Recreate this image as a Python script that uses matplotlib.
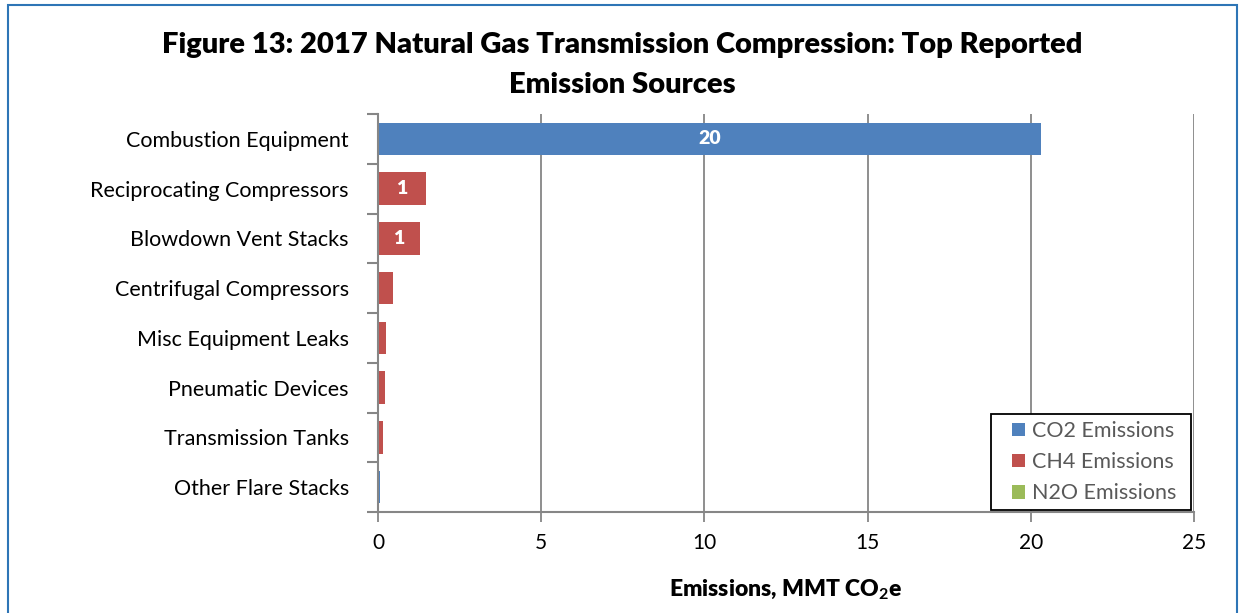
import numpy as np
import matplotlib.pyplot as plt
from matplotlib.patches import Rectangle

plt.rcParams['font.family'] = ['Lato', 'DejaVu Sans']
plt.rcParams['mathtext.fontset'] = 'custom'
plt.rcParams['mathtext.rm'] = 'Lato:bold'
plt.rcParams['mathtext.default'] = 'rm'

# data, MMT CO2e
sources = ['Combustion Equipment', 'Reciprocating Compressors', 'Blowdown Vent Stacks',
           'Centrifugal Compressors', 'Misc Equipment Leaks', 'Pneumatic Devices',
           'Transmission Tanks', 'Other Flare Stacks']
co2 = [20.3, 0.0, 0.0, 0.0, 0.0, 0.0, 0.0, 0.05]
ch4 = [0.0, 1.48, 1.28, 0.46, 0.25, 0.2, 0.15, 0.0]
n2o = [0.0, 0.0, 0.0, 0.0, 0.0, 0.0, 0.0, 0.0]

c_co2 = '#4f81bd'
c_ch4 = '#c0504d'
c_n2o = '#9bbb59'
grid_c = '#868686'

fig = plt.figure(figsize=(12.39, 6.13), dpi=100)
ax = fig.add_axes([378 / 1239, 1 - 512 / 613, (1194 - 378) / 1239, (512 - 114) / 613])

y = np.arange(len(sources))
co2 = np.array(co2)
ch4 = np.array(ch4)
n2o = np.array(n2o)
h = 0.65
b1 = ax.barh(y, co2, height=h, color=c_co2, label='CO2 Emissions')
b2 = ax.barh(y, ch4, height=h, left=co2, color=c_ch4, label='CH4 Emissions')
b3 = ax.barh(y, n2o, height=h, left=co2 + ch4, color=c_n2o, label='N2O Emissions')

# data labels for the larger segments
for vals, lefts in [(co2, np.zeros_like(co2)), (ch4, co2)]:
    for i, v in enumerate(vals):
        if v >= 1:
            ax.text(lefts[i] + v / 2, y[i], f'{v:.0f}', ha='center', va='center',
                    color='white', fontsize=14, fontweight='heavy')

ax.set_ylim(len(sources) - 0.5, -0.5)
ax.set_xlim(0, 25)
ax.set_xticks([0, 5, 10, 15, 20, 25])
ax.tick_params(axis='x', labelsize=15, length=7, color=grid_c, width=1.3, pad=8)
ax.set_yticks(y)
ax.set_yticklabels(sources)
ax.tick_params(axis='y', which='major', length=0, labelsize=15.5, pad=21)
ax.set_yticks(np.arange(-0.5, len(sources)), minor=True)
ax.tick_params(axis='y', which='minor', length=8, color=grid_c, width=1.5)
ax.grid(axis='x', color=grid_c, linewidth=1.3)
ax.set_axisbelow(True)
for s in ['top', 'right']:
    ax.spines[s].set_visible(False)
for s in ['left', 'bottom']:
    ax.spines[s].set_color(grid_c)
    ax.spines[s].set_linewidth(1.5)

ax.set_xlabel('Emissions, MMT CO$_2$e', fontsize=16.5, fontweight='heavy', labelpad=18)

# legend without its own frame, box drawn separately (wider padding like Excel)
leg = ax.legend(loc='upper left', bbox_to_anchor=((1012 - 378) / 816, (512 - 421) / 398),
                fontsize=15.5, frameon=False, handlelength=0.6, handleheight=0.6,
                handletextpad=0.35, borderpad=0, borderaxespad=0, labelspacing=0.52)
for t in leg.get_texts():
    t.set_color('#595959')
ax.add_patch(Rectangle(((991 - 378) / 816, 2 / 398), 200 / 816, 96 / 398,
                       transform=ax.transAxes, fill=True, facecolor='white',
                       edgecolor='black', linewidth=1.3, zorder=4, clip_on=False))
leg.set_zorder(5)

fig.text(0.502, 1 - 45 / 613, 'Figure 13: 2017 Natural Gas Transmission Compression: Top Reported',
         ha='center', va='center', fontsize=21, fontweight='heavy')
fig.text(0.502, 1 - 85 / 613, 'Emission Sources',
         ha='center', va='center', fontsize=21, fontweight='heavy')

fig.patches.append(Rectangle((8 / 1239, -0.05), (1237 - 8) / 1239, 1 - 5 / 613 + 0.05,
                             transform=fig.transFigure, fill=False,
                             edgecolor='#2e75b6', linewidth=1.5))

fig.savefig('out.png', dpi=100)
